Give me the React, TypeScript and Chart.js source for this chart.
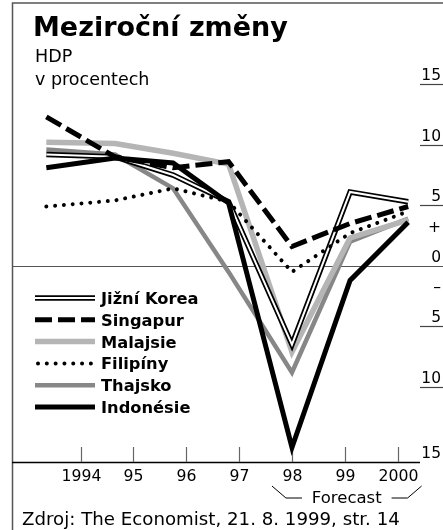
import React, { useEffect, useRef } from "react";
import { Chart, registerables } from "chart.js";

Chart.register(...registerables);

// ---- data ----
const pointYears = [1993.35, 1994.65, 1995.75, 1996.8, 1998, 1999.1, 2000.2];
const korea = [9.2, 9.0, 7.5, 5.3, -6.5, 6.1, 5.3];
const singapur = [12.3, 9.0, 8.1, 8.6, 1.6, 3.5, 4.9];
const malajsie = [10.2, 10.1, 9.3, 8.4, -7.1, 2.3, 3.8];
const filipiny = [4.9, 5.4, 6.4, 5.3, -0.5, 2.7, 4.5];
const thajsko = [9.6, 9.2, 6.4, -0.5, -8.8, 2.0, 3.9];
const indonesie = [8.1, 8.9, 8.5, 5.2, -15.0, -1.2, 3.6];

const xTickYears = [1994, 1995, 1996, 1997, 1998, 1999, 2000];
const xTickLabels = ["1994", "95", "96", "97", "98", "99", "2000"];
const yTickValues = [15, 10, 5, 2.5, 0, -2.5, -5, -10];
const yTickLabels = ["15", "10", "5", "+", "0", "\u2013", "5", "10"];
const yUnderlined = [true, true, true, false, false, false, true, true];
const bottomAxisLabel = "15";

const legendNames = ["Jižní Korea", "Singapur", "Malajsie", "Filipíny", "Thajsko", "Indonésie"];
const titleText = "Meziroční změny";
const subtitle1 = "HDP";
const subtitle2 = "v procentech";
const forecastText = "Forecast";
const sourceText = "Zdroj: The Economist, 21. 8. 1999, str. 14";

const FONT = "'DejaVu Sans', Verdana, sans-serif";
const LIGHT = "#b5b5b5";
const MID = "#878787";

const toPts = (arr: number[]) => arr.map((y, i) => ({ x: pointYears[i], y }));

function txt(ctx: CanvasRenderingContext2D, s: string, x: number, y: number, font: string, align: CanvasTextAlign = "left", sx = 1) {
  ctx.save();
  ctx.font = font;
  ctx.textAlign = align;
  ctx.textBaseline = "alphabetic";
  ctx.fillStyle = "#000";
  ctx.translate(x, y);
  ctx.scale(sx, 1);
  ctx.fillText(s, 0, 0);
  ctx.restore();
}

type Sty = { color: string; width: number; dash?: number[]; cap?: CanvasLineCap; inner?: boolean };
const styles: Sty[] = [
  { color: "#000", width: 5.5, inner: true },
  { color: "#000", width: 5, dash: [17, 6] },
  { color: LIGHT, width: 5.5 },
  { color: "#000", width: 4, dash: [0.01, 8.8], cap: "round" },
  { color: MID, width: 4.5 },
  { color: "#000", width: 5 },
];

const decorPlugin = {
  id: "decor",
  beforeDraw(chart: any) {
    const ctx: CanvasRenderingContext2D = chart.ctx;
    ctx.save();
    ctx.fillStyle = "#fff";
    ctx.fillRect(0, 0, chart.width, chart.height);
    const ys = chart.scales.y;
    const xs = chart.scales.x;
    const ca = chart.chartArea;
    // frame
    ctx.strokeStyle = "#555";
    ctx.lineWidth = 1.5;
    ctx.beginPath();
    ctx.moveTo(12.5, chart.height);
    ctx.lineTo(12.5, 3);
    ctx.lineTo(chart.width, 3);
    ctx.stroke();
    // zero line
    const y0 = Math.round(ys.getPixelForValue(0)) + 0.5;
    ctx.strokeStyle = "#555";
    ctx.lineWidth = 1.2;
    ctx.beginPath();
    ctx.moveTo(12, y0);
    ctx.lineTo(chart.width, y0);
    ctx.stroke();
    // right labels
    yTickValues.forEach((v, i) => {
      const py = ys.getPixelForValue(v);
      if (yUnderlined[i]) {
        ctx.strokeStyle = "#444";
        ctx.lineWidth = 1.2;
        ctx.beginPath();
        ctx.moveTo(420, Math.round(py) + 0.5);
        ctx.lineTo(chart.width, Math.round(py) + 0.5);
        ctx.stroke();
      }
      txt(ctx, yTickLabels[i], 441, py - 4, `15.5px ${FONT}`, "right");
    });
    txt(ctx, bottomAxisLabel, 441, ca.bottom - 4, `15.5px ${FONT}`, "right");
    // x axis
    ctx.strokeStyle = "#000";
    ctx.lineWidth = 1.3;
    ctx.beginPath();
    ctx.moveTo(12, ca.bottom + 0.5);
    ctx.lineTo(ca.right, ca.bottom + 0.5);
    ctx.stroke();
    ctx.strokeStyle = "#666";
    ctx.lineWidth = 1.2;
    xTickYears.forEach((yr, i) => {
      const px = Math.round(xs.getPixelForValue(yr)) + 0.5;
      ctx.beginPath();
      ctx.moveTo(px, ca.bottom);
      ctx.lineTo(px, ca.bottom - 15);
      ctx.stroke();
      txt(ctx, xTickLabels[i], px, ca.bottom + 19, `15.7px ${FONT}`, "center");
    });
    // forecast bracket
    const fx1 = xs.getPixelForValue(1998) - 20;
    const fx2 = xs.getPixelForValue(2000) + 24;
    const by = ca.bottom + 36;
    ctx.strokeStyle = "#000";
    ctx.lineWidth = 1;
    ctx.beginPath();
    ctx.moveTo(fx1, ca.bottom + 24);
    ctx.lineTo(fx1 + 14, by);
    ctx.lineTo(fx1 + 30, by);
    ctx.moveTo(fx2 - 30, by);
    ctx.lineTo(fx2 - 14, by);
    ctx.lineTo(fx2, ca.bottom + 24);
    ctx.stroke();
    txt(ctx, forecastText, (fx1 + fx2) / 2, by + 5, `16.5px ${FONT}`, "center");
    // titles
    txt(ctx, titleText, 33, 36, `bold 27px ${FONT}`);
    txt(ctx, subtitle1, 35, 62, `17.5px ${FONT}`);
    txt(ctx, subtitle2, 35, 85, `17.5px ${FONT}`);
    txt(ctx, sourceText, 22, 525, `18.2px ${FONT}`);
    ctx.restore();
  },
  afterDatasetsDraw(chart: any) {
    const ctx: CanvasRenderingContext2D = chart.ctx;
    ctx.save();
    legendNames.forEach((name, i) => {
      const y = 298 + i * 21.8;
      const s = styles[i];
      ctx.strokeStyle = s.color;
      ctx.lineWidth = s.width;
      ctx.lineCap = s.cap || "butt";
      ctx.setLineDash(s.dash || []);
      ctx.beginPath();
      ctx.moveTo(i === 3 ? 38 : 35, y);
      ctx.lineTo(95, y);
      ctx.stroke();
      if (s.inner) {
        ctx.strokeStyle = "#fff";
        ctx.lineWidth = 2;
        ctx.beginPath();
        ctx.moveTo(35, y);
        ctx.lineTo(95, y);
        ctx.stroke();
      }
      ctx.setLineDash([]);
      txt(ctx, name, 101, y + 6, `bold 16.3px ${FONT}`);
    });
    ctx.restore();
  },
};

const ds = (data: number[], s: Sty, extra: any = {}) => ({
  data: toPts(data),
  borderColor: s.color,
  borderWidth: s.width,
  borderDash: s.dash || [],
  borderCapStyle: s.cap || "butt",
  borderJoinStyle: "miter",
  pointRadius: 0,
  tension: 0,
  fill: false,
  ...extra,
});

export default function App() {
  const ref = useRef<HTMLCanvasElement>(null);
  useEffect(() => {
    document.body.style.margin = "0";
    const chart = new Chart(ref.current!, {
      type: "line",
      data: {
        datasets: [
          ds(singapur, styles[1]),
          ds(filipiny, styles[3]),
          ds(indonesie, styles[5]),
          ds(korea, { color: "#fff", width: 2 }),
          ds(korea, styles[0]),
          ds(malajsie, styles[2]),
          ds(thajsko, styles[4]),
        ] as any,
      },
      options: {
        animation: false,
        responsive: false,
        layout: { padding: { left: 12, right: 23, top: 60, bottom: 68 } },
        plugins: { legend: { display: false }, tooltip: { enabled: false } },
        scales: {
          x: { type: "linear", min: 1992.7, max: 2000.424, display: false },
          y: { min: -16.2, max: 17, display: false },
        },
      },
      plugins: [decorPlugin],
    });
    return () => chart.destroy();
  }, []);
  return <canvas ref={ref} width={443} height={530} style={{ display: "block" }} />;
}
